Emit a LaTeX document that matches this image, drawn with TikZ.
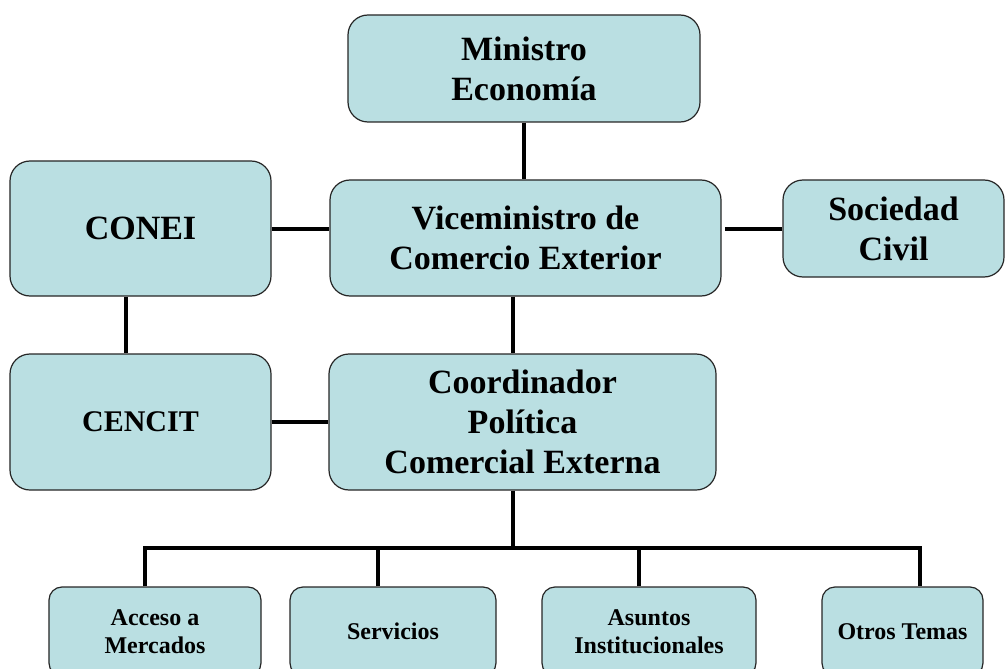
\documentclass[tikz,border=0pt]{standalone}
\usepackage{fontspec}
\setmainfont{Liberation Serif}
\definecolor{boxfill}{HTML}{BADFE2}

\begin{document}
\begin{tikzpicture}[x=1bp, y=-1bp]
    \tikzset{
        orgbox/.style={draw=black!85, line width=1.2bp, fill=boxfill, rounded corners=20bp,
            align=center, inner sep=0pt, font=\bfseries\fontsize{34bp}{40bp}\selectfont},
        subbox/.style={orgbox, rounded corners=13bp, font=\bfseries\fontsize{24bp}{28bp}\selectfont},
        link/.style={line width=4bp}
    }
    \useasboundingbox (0,0) rectangle (1005,669);

    % upper levels
    \node[orgbox, minimum width=352bp, minimum height=107bp] (ministro) at (524,68.5) {Ministro\\Economía};
    \node[orgbox, minimum width=261bp, minimum height=135bp] (conei) at (140.5,228.5) {CONEI};
    \node[orgbox, minimum width=391bp, minimum height=116bp] (vice) at (525.5,238) {Viceministro de\\Comercio Exterior};
    \node[orgbox, minimum width=221bp, minimum height=97bp] (sociedad) at (893.5,228.5) {Sociedad\\Civil};
    \node[orgbox, minimum width=261bp, minimum height=136bp, font=\bfseries\fontsize{30bp}{36bp}\selectfont] (cencit) at (140.5,422) {CENCIT};
    \node[orgbox, minimum width=387bp, minimum height=136bp] (coord) at (522.5,422) {Coordinador\\Política\\Comercial Externa};

    % bottom row
    \node[subbox, minimum width=212bp, minimum height=89bp] (acc) at (155,631.5) {Acceso a\\Mercados};
    \node[subbox, minimum width=206bp, minimum height=89bp] (ser) at (393,631.5) {Servicios};
    \node[subbox, minimum width=214bp, minimum height=89bp] (asu) at (649,631.5) {Asuntos\\Institucionales};
    \node[subbox, minimum width=161bp, minimum height=89bp] (otr) at (902.5,631.5) {Otros Temas};

    \draw[link] (ministro.south) -- (ministro.south |- vice.north);
    \draw[link] (conei.east) -- (conei.east -| vice.west);
    \draw[link] (sociedad.west) -- ([xshift=3bp]sociedad.west -| vice.east);
    \draw[link] ([xshift=-14.5bp]conei.south) -- ([xshift=-14.5bp]conei.south |- cencit.north);
    \draw[link] (cencit.east) -- (cencit.east -| coord.west);
    \draw[link] ([xshift=-12.5bp]vice.south) -- ([xshift=-12.5bp]vice.south |- coord.north);

    \draw[link] ([xshift=-9.5bp]coord.south) -- ++(0,57) coordinate (bar);
    \foreach \n/\dx in {acc/-10bp, ser/-15bp, asu/-10bp, otr/17.5bp}
        \draw[link] ([xshift=\dx]\n.north) |- (bar);
\end{tikzpicture}
\end{document}
